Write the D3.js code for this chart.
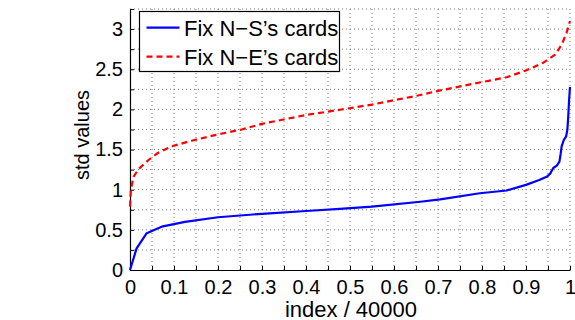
<!DOCTYPE html>
<meta charset="utf-8">
<style>
  body { margin: 0; background: #fff; }
  text { font-family: "Liberation Sans", Arial, sans-serif; font-size: 20px; fill: #000; }
  .grid line { stroke: #7a7a7a; stroke-width: 1; stroke-dasharray: 1,3; }
  .big { font-size: 22px; }
</style>
<svg width="575" height="320"></svg>
<script src="https://d3js.org/d3.v7.min.js"></script>
<script>

// sorted std values, x given as fraction of 40000
var nsIndex = [0, 0.015, 0.038, 0.072, 0.125, 0.2, 0.3, 0.4, 0.477, 0.55, 0.66, 0.705, 0.795, 0.856, 0.9, 0.93, 0.947, 0.955, 0.962, 0.970, 0.976, 0.979, 0.981, 0.986, 0.991, 0.994, 0.996, 0.998, 1.0];
var nsStd   = [0, 0.27, 0.458, 0.54, 0.60, 0.657, 0.70, 0.735, 0.76, 0.79, 0.85, 0.88, 0.956, 0.99, 1.06, 1.12, 1.16, 1.20, 1.27, 1.30, 1.35, 1.455, 1.54, 1.62, 1.66, 1.745, 1.91, 2.12, 2.28];

var neIndex = [0, 0.002, 0.008, 0.019, 0.042, 0.064, 0.095, 0.14, 0.193, 0.254, 0.3, 0.4, 0.477, 0.55, 0.652, 0.705, 0.795, 0.856, 0.9, 0.939, 0.966, 0.981, 0.992, 1.0];
var neStd   = [0.79, 1.0, 1.16, 1.255, 1.37, 1.46, 1.54, 1.61, 1.68, 1.75, 1.82, 1.93, 1.995, 2.06, 2.17, 2.236, 2.335, 2.40, 2.485, 2.58, 2.68, 2.805, 2.95, 3.10];

var seriesNames = ["Fix N\u2212S\u2019s cards", "Fix N\u2212E\u2019s cards"];
var xTicks = d3.range(0, 1.0001, 0.05);
var yTicks = d3.range(0, 3.2501, 0.25);

var svg = d3.select("svg"),
    margin = {top: 9, right: 5, bottom: 50, left: 130},
    width = +svg.attr("width") - margin.left - margin.right,
    height = +svg.attr("height") - margin.top - margin.bottom;

var x = d3.scaleLinear().domain([0, 1]).range([0, width]),
    y = d3.scaleLinear().domain([0, 3.25]).range([height, 0]);

var g = svg.append("g")
    .attr("transform", "translate(" + margin.left + "," + margin.top + ")");

// dotted grid
var grid = g.append("g").attr("class", "grid");
grid.selectAll(".gx").data(xTicks.slice(1)).enter().append("line")
    .attr("x1", function(d) { return x(d); }).attr("x2", function(d) { return x(d); })
    .attr("y1", 0).attr("y2", height);
grid.selectAll(".gy").data(yTicks.slice(1)).enter().append("line")
    .attr("x1", 0).attr("x2", width)
    .attr("y1", function(d) { return y(d); }).attr("y2", function(d) { return y(d); });

// axes, ticks pointing inward like matlab
var fmt = function(d) { return (Math.round(d * 100) % 10 === 0) ? d3.format("~g")(+d.toFixed(2)) : ""; };
var fmtY = function(d) { return (Math.round(d * 100) % 50 === 0) ? d3.format("~g")(+d.toFixed(2)) : ""; };

var xAxis = g.append("g")
    .attr("transform", "translate(0," + height + ")")
    .call(d3.axisBottom(x).tickValues(xTicks).tickFormat(fmt).tickSizeInner(-4).tickSizeOuter(0).tickPadding(10));
var yAxis = g.append("g")
    .call(d3.axisLeft(y).tickValues(yTicks).tickFormat(fmtY).tickSizeInner(-4).tickSizeOuter(0).tickPadding(7));

[xAxis, yAxis].forEach(function(a) {
  a.attr("font-size", null).attr("font-family", null);
  a.selectAll("path").attr("stroke", "#000").attr("stroke-width", 1.2);
  a.selectAll("line").attr("stroke", "#000");
});
xAxis.selectAll("text").attr("dy", "0.71em").attr("y", 9.5);

// lines
var line = d3.line()
    .x(function(d) { return x(d[0]); })
    .y(function(d) { return y(d[1]); });

g.append("path")
    .datum(d3.zip(nsIndex, nsStd))
    .attr("fill", "none").attr("stroke", "#0000ff").attr("stroke-width", 2.2)
    .attr("stroke-linejoin", "round")
    .attr("d", line);

g.append("path")
    .datum(d3.zip(neIndex, neStd))
    .attr("fill", "none").attr("stroke", "#ff0000").attr("stroke-width", 2.2)
    .attr("stroke-dasharray", "6,4")
    .attr("d", line);

// axis labels
svg.append("text")
    .attr("class", "big")
    .attr("x", 351).attr("y", 316.5)
    .attr("text-anchor", "middle")
    .text("index / 40000");
svg.append("text")
    .attr("transform", "translate(89,135) rotate(-90)")
    .attr("text-anchor", "middle")
    .text("std values");

// legend
var legend = svg.append("g").attr("transform", "translate(139.5,11.5)");
legend.append("rect")
    .attr("width", 200).attr("height", 60)
    .attr("fill", "#fff").attr("stroke", "#000").attr("stroke-width", 1.2);
var styles = [{c: "#0000ff", dash: null}, {c: "#ff0000", dash: "6,4"}];
seriesNames.forEach(function(name, i) {
  var yy = 16.2 + i * 29;
  legend.append("line")
      .attr("x1", 7).attr("x2", 40).attr("y1", yy).attr("y2", yy)
      .attr("stroke", styles[i].c).attr("stroke-width", 2.2)
      .attr("stroke-dasharray", styles[i].dash);
  legend.append("text")
      .attr("class", "big")
      .attr("x", 44.5).attr("y", yy + 8)
      .text(name);
});

</script>
</html>
